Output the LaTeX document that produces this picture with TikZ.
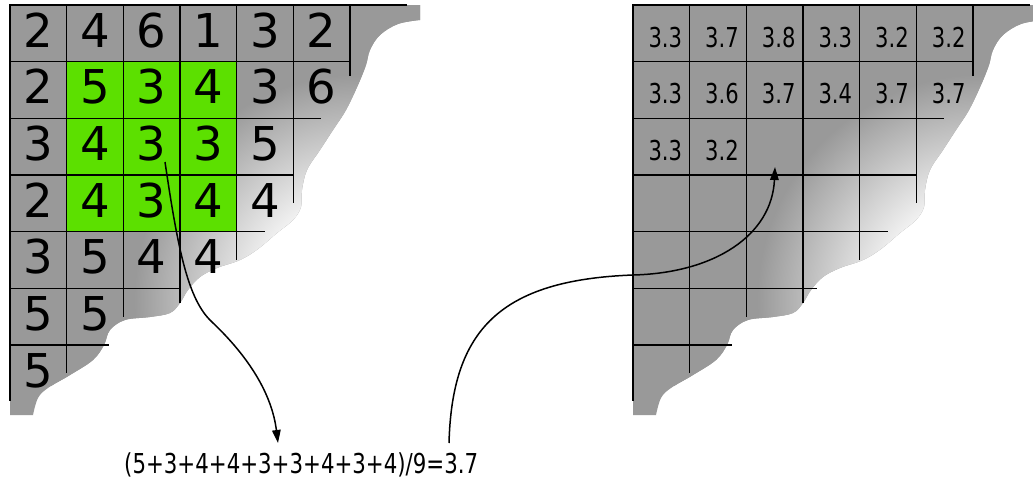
\documentclass[tikz,border=0pt]{standalone}
\usepackage{fontspec}
\setmainfont{DejaVu Sans}
\newfontfamily\condfont{DejaVu Sans}[FakeStretch=0.77]
\usetikzlibrary{arrows.meta}
\definecolor{cellgray}{RGB}{153,153,153}
\definecolor{cellgreen}{RGB}{92,224,0}
\pgfdeclareradialshading{fadeshade}{\pgfpoint{0bp}{0bp}}{color(0bp)=(white); color(85bp)=(white); color(225bp)=(cellgray); color(320bp)=(cellgray)}
\tikzset{
  gridline/.style={line width=1.6pt, black},
  bignum/.style={anchor=base, inner sep=0pt, font=\fontsize{46.6}{50}\selectfont},
  smallnum/.style={anchor=base, inner sep=0pt, font=\condfont\fontsize{27.4}{30}\selectfont},
  formulatext/.style={anchor=base west, inner sep=0pt, font=\condfont\fontsize{27.4}{30}\selectfont},
  connector/.style={line width=1.5pt, black, -{Triangle[length=13pt,width=8.5pt]}}
}
\begin{document}
\begin{tikzpicture}[x=1pt,y=-1pt]
\useasboundingbox (0,0) rectangle (1033,479);
\begin{scope}
\clip (0,0) rectangle (1033,479);
% torn gray sheets
\foreach \dx in {0,623} {
  \begin{scope}[shift={(\dx,0)}]
    \fill[cellgray] (10,5) -- (420,5) -- plot[smooth, tension=0.6] coordinates {(420,20) (398,24) (380,35) (370,50) (366,65) (358,85) (346,110) (333,130) (320,150) (307,170) (302,190) (301,207) (293,220) (277,233) (258,249) (240,260) (217,268) (200,277) (188,290) (180,303) (170,313) (150,317) (125,320) (110,330) (104,345) (93,360) (70,375) (48,388) (38,398) (33,415)} -- (10,415) -- cycle;
    \begin{scope}
      \clip (10,5) -- (420,5) -- plot[smooth, tension=0.6] coordinates {(420,20) (398,24) (380,35) (370,50) (366,65) (358,85) (346,110) (333,130) (320,150) (307,170) (302,190) (301,207) (293,220) (277,233) (258,249) (240,260) (217,268) (200,277) (188,290) (180,303) (170,313) (150,317) (125,320) (110,330) (104,345) (93,360) (70,375) (48,388) (38,398) (33,415)} -- (10,415) -- cycle;
      \node[inner sep=0pt] (fade\dx) at (360,300) {\pgfuseshading{fadeshade}};
    \end{scope}
  \end{scope}
}
% green window
\fill[cellgreen] (66.67,61.67) rectangle (236.67,231.67);
% grid lines
\foreach \dx/\yfive in {0/180, 623/194} {
  \begin{scope}[shift={(\dx,0)}, gridline]
    \draw (407,5) -- (10,5) -- (10,401);
    \draw (66.67,5) -- (66.67,373);
    \draw (123.33,5) -- (123.33,317);
    \draw (180,5) -- (180,303);
    \draw (236.67,5) -- (236.67,260);
    \draw (293.33,5) -- (293.33,203);
    \draw (350,5) -- (350,76);
    \draw (10,61.67) -- (350,61.67);
    \draw (10,118.33) -- (321,118.33);
    \draw (10,175) -- (293.5,175);
    \draw (10,231.67) -- (265,231.67);
    \draw (10,288.33) -- (\yfive,288.33);
    \draw (10,345) -- (109,345);
  \end{scope}
}
\end{scope}
% left numbers
\foreach \row [count=\r from 0] in {{2,4,6,1,3,2},{2,5,3,4,3,6},{3,4,3,3,5},{2,4,3,4,4},{3,5,4,4},{5,5},{5}} {
  \foreach \v [count=\c from 0] in \row {
    \node[bignum] (L\r\c) at ({38.33+56.667*\c}, {47+56.667*\r}) {\v};
  }
}
% right numbers
\foreach \row [count=\r from 0] in {{3.3,3.7,3.8,3.3,3.2,3.2},{3.3,3.6,3.7,3.4,3.7,3.7},{3.3,3.2}} {
  \foreach \v [count=\c from 0] in \row {
    \node[smallnum] (R\r\c) at ({665.33+56.667*\c}, {47+56.667*\r}) {\v};
  }
}
% formula
\node[formulatext] (formula) at (124,473) {\resizebox{354pt}{\height}{(5+3+4+4+3+3+4+3+4)/9=3.7}};
% connectors
\coordinate (a1s) at (165,162);
\coordinate (a1m) at (212,322);
\coordinate (a1e) at (278,443);
\coordinate (a2s) at (449,443);
\coordinate (a2m) at (633,275);
\coordinate (a2e) at (775,167);
\draw[connector] (a1s) .. controls (178,250) and (188,300) .. (a1m) .. controls (250,358) and (272,395) .. (a1e);
\draw[connector] (a2s) .. controls (452,330) and (500,280) .. (a2m) .. controls (715,273) and (772,235) .. (a2e);
\end{tikzpicture}
\end{document}
